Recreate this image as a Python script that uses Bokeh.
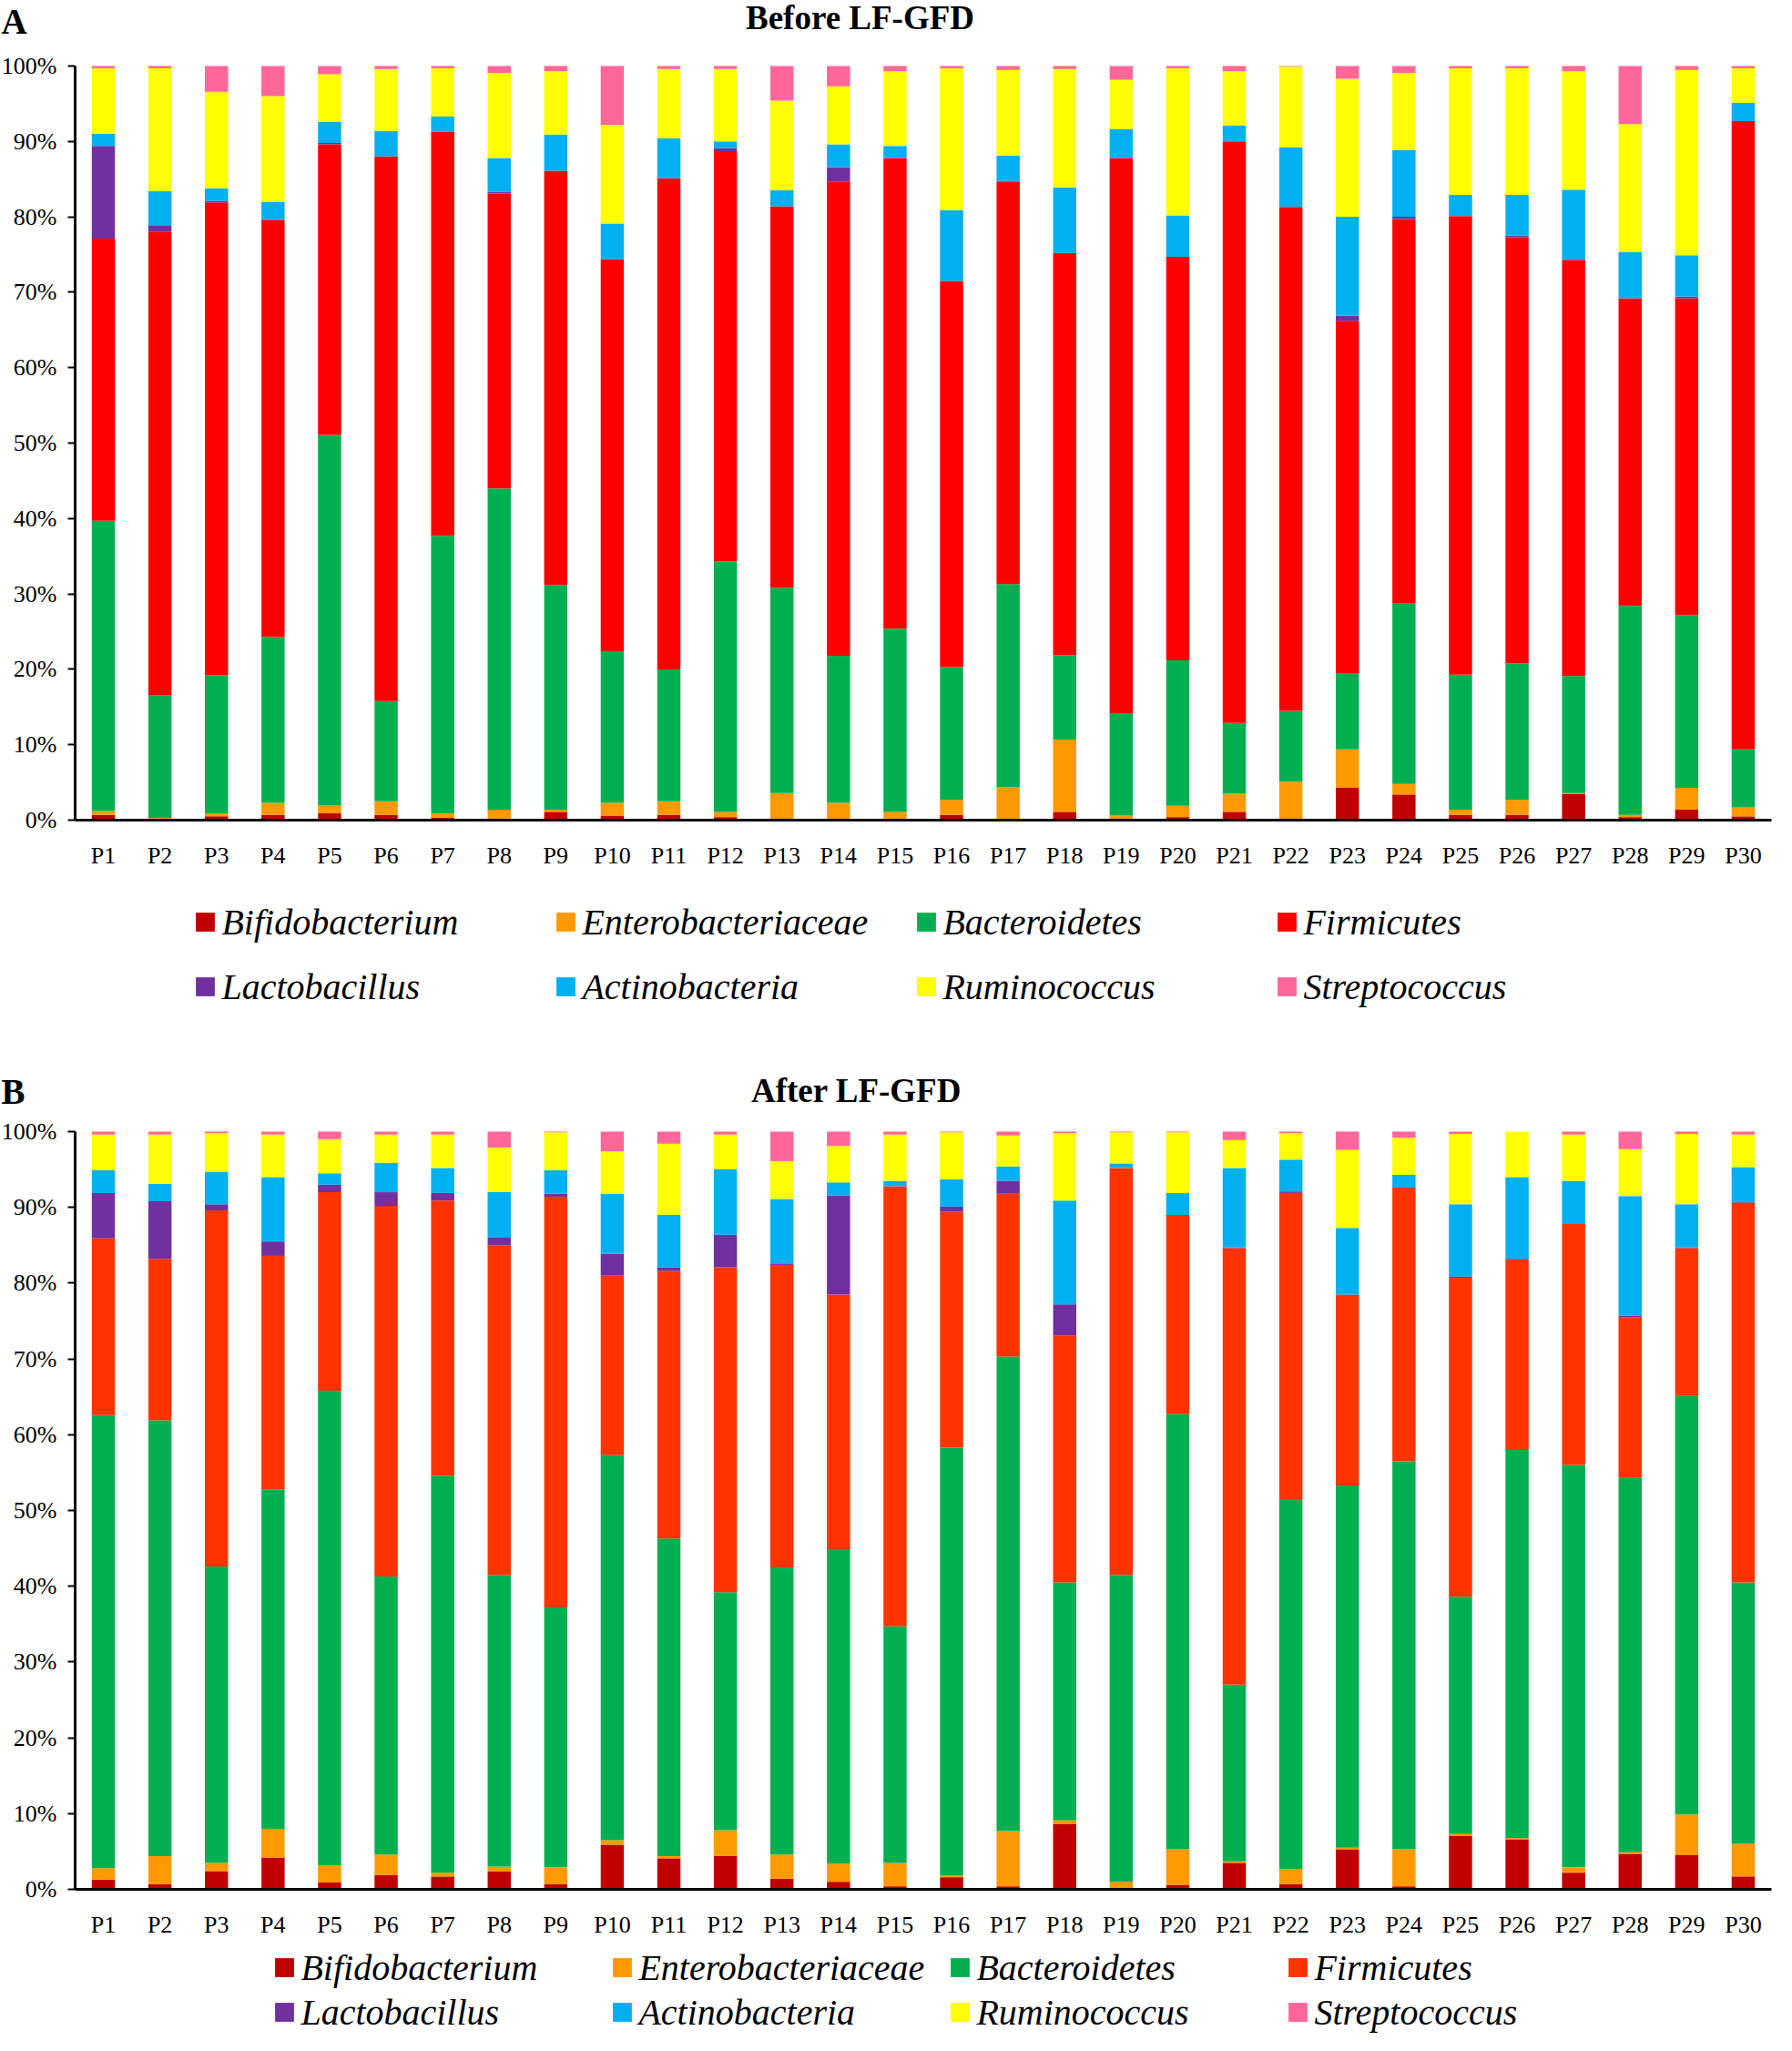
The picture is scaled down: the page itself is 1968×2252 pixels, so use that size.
from bokeh.plotting import figure
from bokeh.models import (FixedTicker, PrintfTickFormatter, Legend, LegendItem,
                          ColumnDataSource, Range1d, Label)
from bokeh.layouts import column
from bokeh.embed import file_html
from bokeh.resources import INLINE

patients = [f"P{i}" for i in range(1, 31)]
taxa = ["Bifidobacterium", "Enterobacteriaceae", "Bacteroidetes", "Firmicutes",
        "Lactobacillus", "Actinobacteria", "Ruminococcus", "Streptococcus"]
y_ticks = [0, 10, 20, 30, 40, 50, 60, 70, 80, 90, 100]

# ---------------- Panel A: Before LF-GFD (percent) ----------------
before_bifidobacterium = [0.7, 0.2, 0.5, 0.7, 0.9, 0.7, 0.3, 0.2, 1.1, 0.6,
                          0.7, 0.4, 0.1, 0.1, 0.1, 0.7, 0.1, 1.1, 0.1, 0.4,
                          1.1, 0.1, 4.3, 3.4, 0.7, 0.7, 3.5, 0.4, 1.4, 0.5]
before_enterobacteriaceae = [0.5, 0.1, 0.4, 1.6, 1.1, 1.8, 0.6, 1.2, 0.3, 1.7,
                             1.8, 0.7, 3.5, 2.2, 1.0, 2.0, 4.3, 9.6, 0.5, 1.5,
                             2.4, 5.0, 5.1, 1.4, 0.7, 2.0, 0.1, 0.3, 2.9, 1.2]
before_bacteroidetes = [38.5, 16.3, 18.3, 22.0, 49.1, 13.3, 36.8, 42.6, 29.8, 20.1,
                        17.5, 33.2, 27.2, 19.5, 24.3, 17.6, 26.9, 11.2, 13.6, 19.3,
                        9.4, 9.4, 10.1, 24.0, 17.9, 18.1, 15.5, 27.7, 22.9, 7.7]
before_firmicutes = [37.4, 61.4, 62.7, 55.3, 38.5, 72.2, 53.6, 39.1, 54.9, 52.0,
                     65.1, 54.4, 50.6, 62.9, 62.4, 51.2, 53.4, 53.3, 73.6, 53.5,
                     77.1, 66.8, 46.7, 50.9, 60.8, 56.5, 55.2, 40.8, 42.0, 83.3]
before_lactobacillus = [12.3, 0.9, 0.2, 0.1, 0.2, 0.0, 0.0, 0.2, 0.0, 0.0,
                        0.0, 0.4, 0.0, 1.9, 0.0, 0.0, 0.0, 0.0, 0.0, 0.0,
                        0.0, 0.0, 0.7, 0.3, 0.0, 0.2, 0.0, 0.0, 0.2, 0.0]
before_actinobacteria = [1.6, 4.5, 1.7, 2.3, 2.8, 3.4, 2.0, 4.5, 4.8, 4.7,
                         5.3, 0.9, 2.1, 3.0, 1.6, 9.4, 3.4, 8.7, 3.8, 5.5,
                         2.1, 7.9, 13.1, 8.9, 2.8, 5.4, 9.3, 6.1, 5.5, 2.4]
before_ruminococcus = [8.7, 16.3, 12.8, 14.0, 6.3, 8.2, 6.4, 11.3, 8.4, 13.1,
                       9.2, 9.6, 11.9, 7.7, 9.9, 18.8, 11.4, 15.7, 6.6, 19.5,
                       7.2, 10.7, 18.3, 10.2, 16.8, 16.8, 15.7, 17.0, 24.6, 4.6]
before_streptococcus = [0.3, 0.3, 3.4, 4.0, 1.1, 0.4, 0.3, 0.9, 0.7, 7.8,
                        0.4, 0.4, 4.6, 2.7, 0.7, 0.3, 0.5, 0.4, 1.8, 0.3,
                        0.7, 0.1, 1.7, 0.9, 0.3, 0.3, 0.7, 7.7, 0.5, 0.3]

# ---------------- Panel B: After LF-GFD (percent) ----------------
after_bifidobacterium = [1.3, 0.7, 2.4, 4.2, 0.9, 1.9, 1.7, 2.4, 0.7, 5.9,
                         4.1, 4.4, 1.4, 1.0, 0.4, 1.6, 0.4, 8.6, 0.1, 0.6,
                         3.5, 0.7, 5.3, 0.4, 7.1, 6.6, 2.2, 4.7, 4.5, 1.7]
after_enterobacteriaceae = [1.5, 3.7, 1.1, 3.8, 2.3, 2.7, 0.5, 0.6, 2.2, 0.6,
                            0.3, 3.4, 3.2, 2.4, 3.1, 0.2, 7.3, 0.5, 0.9, 4.7,
                            0.2, 2.0, 0.2, 4.9, 0.2, 0.2, 0.7, 0.2, 5.4, 4.3]
after_bacteroidetes = [59.8, 57.5, 39.1, 44.8, 62.6, 36.7, 52.4, 38.5, 34.3, 50.8,
                       41.9, 31.4, 37.9, 41.5, 31.2, 56.5, 62.6, 31.4, 40.5, 57.4,
                       23.3, 48.8, 47.8, 51.2, 31.3, 51.2, 53.1, 49.4, 55.2, 34.5]
after_firmicutes = [23.3, 21.3, 47.0, 30.8, 26.2, 48.9, 36.3, 43.5, 54.2, 23.7,
                    35.3, 42.9, 39.9, 33.6, 58.1, 31.1, 21.5, 32.6, 53.7, 26.3,
                    57.6, 40.4, 25.2, 36.1, 42.1, 25.1, 31.8, 21.2, 19.5, 50.1]
after_lactobacillus = [6.0, 7.6, 0.8, 1.9, 1.0, 1.8, 1.0, 1.0, 0.4, 2.9,
                       0.5, 4.3, 0.2, 13.1, 0.0, 0.7, 1.7, 4.1, 0.0, 0.0,
                       0.1, 0.2, 0.0, 0.0, 0.2, 0.1, 0.0, 0.2, 0.1, 0.1]
after_actinobacteria = [3.0, 2.3, 4.3, 8.5, 1.5, 3.9, 3.3, 6.0, 3.1, 7.9,
                        6.9, 8.6, 8.5, 1.7, 0.7, 3.6, 1.9, 13.7, 0.6, 2.9,
                        10.5, 4.2, 8.8, 1.7, 9.5, 10.8, 5.7, 15.8, 5.7, 4.6]
after_ruminococcus = [4.7, 6.5, 5.1, 5.6, 4.5, 3.7, 4.4, 5.9, 5.0, 5.6,
                      9.4, 4.6, 5.0, 4.8, 6.1, 6.2, 4.1, 8.9, 4.1, 8.0,
                      3.7, 3.5, 10.3, 4.9, 9.3, 6.0, 6.1, 6.2, 9.3, 4.3]
after_streptococcus = [0.4, 0.4, 0.2, 0.4, 1.0, 0.4, 0.4, 2.1, 0.1, 2.6,
                       1.6, 0.4, 3.9, 1.9, 0.4, 0.1, 0.5, 0.2, 0.1, 0.1,
                       1.1, 0.2, 2.4, 0.8, 0.3, 0.0, 0.4, 2.3, 0.3, 0.4]

colors_before = ["#C00000", "#FF9900", "#00B050", "#FF0000",
                 "#7030A0", "#00B0F0", "#FFFF00", "#FF6699"]
colors_after = ["#C00000", "#FF9900", "#00B050", "#FF3300",
                "#7030A0", "#00B0F0", "#FFFF00", "#FF6699"]

FONT = "Liberation Serif"
W = 1952            # canvas width (page x 8 .. 1960)
PLOT_LEFT = 82      # left edge of the bar area, from the canvas left
PLOT_W = 1863       # width of the bar area (30 slots)

x_pos = list(range(1, len(patients) + 1))
x_labels = {i: name for i, name in zip(x_pos, patients)}


def make_panel(series, colors, letter, title, height, top_px, plot_h,
               title_xy, letter_xy, leg_loc, leg_spacing, leg_lw):
    unit = PLOT_W / len(patients)
    x0 = 0.5 - PLOT_LEFT / unit
    x1 = 0.5 + (W - PLOT_LEFT) / unit
    yscale = plot_h / 100.0
    y1 = 100 + top_px / yscale
    y0 = 100 - (height - top_px) / yscale

    data = {"x": x_pos, "patient": patients}
    for t, s in zip(taxa, series):
        data[t] = s
    src = ColumnDataSource(data)
    p = figure(x_range=Range1d(x0, x1), y_range=Range1d(y0, y1),
               width=W, height=height, output_backend="svg", toolbar_location=None,
               min_border=0, min_border_left=0, min_border_right=0,
               min_border_top=0, min_border_bottom=0)
    rs = p.vbar_stack(taxa, x="x", width=0.41, fill_color=colors,
                      line_color=None, source=src)
    p.xgrid.visible = False
    p.ygrid.visible = False
    p.outline_line_color = None

    ya = p.yaxis[0]
    ya.fixed_location = 0.5
    ya.bounds = (0, 100)
    ya.ticker = FixedTicker(ticks=y_ticks)
    ya.formatter = PrintfTickFormatter(format="%d%%")
    ya.axis_line_width = 3
    ya.axis_line_color = "black"
    ya.major_tick_out = 8
    ya.major_tick_in = 0
    ya.major_tick_line_width = 2
    ya.major_tick_line_color = "black"
    ya.minor_tick_line_color = None
    ya.major_label_standoff = 12
    ya.major_label_text_font = FONT
    ya.major_label_text_font_size = "26px"
    ya.major_label_text_color = "black"

    xa = p.xaxis[0]
    xa.fixed_location = 0
    xa.bounds = (0.5, len(patients) + 0.5)
    xa.ticker = FixedTicker(ticks=x_pos)
    xa.major_label_overrides = x_labels
    xa.axis_line_width = 3
    xa.axis_line_color = "black"
    xa.major_tick_line_color = None
    xa.minor_tick_line_color = None
    xa.major_tick_out = 0
    xa.major_tick_in = 0
    xa.major_label_standoff = 24
    xa.major_label_text_font = FONT
    xa.major_label_text_font_size = "26px"
    xa.major_label_text_color = "black"

    p.add_layout(Label(x=title_xy[0], y=title_xy[1], x_units="screen", y_units="screen",
                       text=title, text_align="center", text_baseline="alphabetic",
                       text_font=FONT, text_font_style="bold",
                       text_font_size="37px", text_color="black"))
    p.add_layout(Label(x=letter_xy[0], y=letter_xy[1], x_units="screen", y_units="screen",
                       text=letter, text_align="left", text_baseline="alphabetic",
                       text_font=FONT, text_font_style="bold",
                       text_font_size="39px", text_color="black"))

    items = [LegendItem(label=t, renderers=[r]) for t, r in zip(taxa, rs)]
    leg = Legend(items=items, location=leg_loc, orientation="horizontal", ncols=4,
                 glyph_width=26, glyph_height=26, label_standoff=5,
                 label_width=leg_lw, label_height=46, spacing=leg_spacing,
                 padding=0, margin=0, border_line_color=None,
                 background_fill_alpha=0,
                 label_text_font=FONT, label_text_font_style="italic",
                 label_text_font_size="40px", label_text_color="black")
    p.add_layout(leg)
    return p


# Panel A canvas: page y 8..1150 ; 100% at page 80, 0% at page 908
pA = make_panel([before_bifidobacterium, before_enterobacteriaceae, before_bacteroidetes,
                 before_firmicutes, before_lactobacillus, before_actinobacteria,
                 before_ruminococcus, before_streptococcus],
                colors_before, "A", "Before LF-GFD", height=1142, top_px=72, plot_h=828,
                title_xy=(944, 1123), letter_xy=(1, 1119),
                leg_loc=(212.4, 35.5), leg_spacing=24, leg_lw=341)

# Panel B canvas: page y 1150..2244 ; 100% at page 1250, 0% at page 2082
pB = make_panel([after_bifidobacterium, after_enterobacteriaceae, after_bacteroidetes,
                 after_firmicutes, after_lactobacillus, after_actinobacteria,
                 after_ruminococcus, after_streptococcus],
                colors_after, "B", "After LF-GFD", height=1094, top_px=100, plot_h=832,
                title_xy=(940, 1039), letter_xy=(1, 1038),
                leg_loc=(299.4, 3.5), leg_spacing=2, leg_lw=338)

layout = column(pA, pB, spacing=0)
open("out.html", "w").write(file_html(layout, INLINE))
